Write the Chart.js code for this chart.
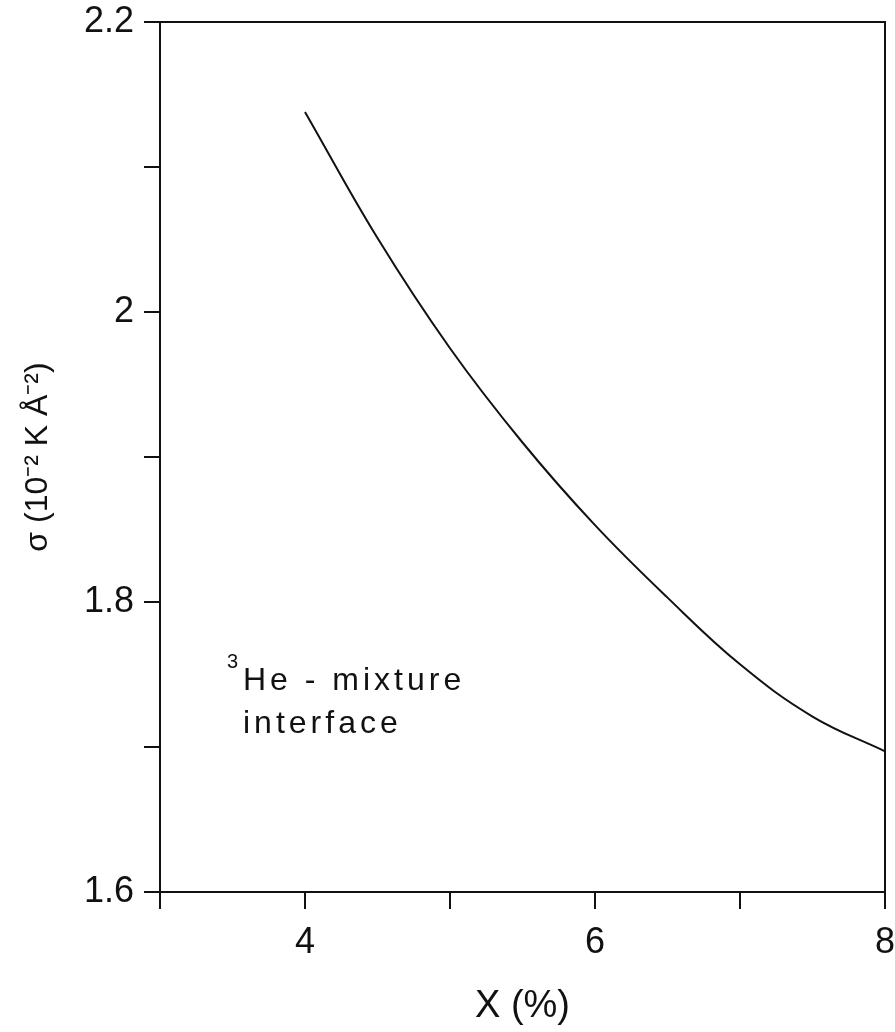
<!DOCTYPE html>
<html>
<head>
<meta charset="utf-8">
<title>sigma x X</title>
<script src="https://cdn.jsdelivr.net/npm/chart.js@4/dist/chart.umd.min.js"></script>
<style>
    body { margin: 0; background: #fff; }
    #box-chart { width: 895px; height: 1032px; }
</style>
</head>
<body>
<div id="box-chart">
    <canvas id="LineChart1" width="895" height="1032"></canvas>
</div>
<script>
// concentracao X (%) e tensao superficial sigma (10^-2 K A^-2)
var concentracao = [4, 4.5, 5, 5.5, 6, 6.5, 7, 7.5, 8];
var sigma = [2.138, 2.051, 1.975, 1.910, 1.853, 1.803, 1.757, 1.721, 1.697];

var xRotulosValores = [4, 6, 8];
var xRotulos = ['4', '6', '8'];
var yRotulosValores = [1.6, 1.8, 2.0, 2.2];
var yRotulos = ['1.6', '1.8', '2', '2.2'];

var fonte = "'Liberation Sans', Arial, sans-serif";

function rotulo(v, valores, textos) {
    for (var i = 0; i < valores.length; i++) {
        if (Math.abs(v - valores[i]) < 1e-6)
            return textos[i];
    }
    return '';
}

// moldura (topo e direita) e o texto dentro do grafico
var moldura = {
    id: 'moldura',
    afterDraw: function (chart) {
        var ctx = chart.ctx;
        var a = chart.chartArea;
        ctx.save();
        ctx.strokeStyle = '#111';
        ctx.lineWidth = 2;
        ctx.beginPath();
        ctx.moveTo(a.left, a.top);
        ctx.lineTo(a.right, a.top);
        ctx.lineTo(a.right, a.bottom);
        ctx.stroke();

        ctx.fillStyle = '#111';
        ctx.textBaseline = 'alphabetic';
        ctx.textAlign = 'left';
        ctx.font = "20px " + fonte;
        ctx.fillText('3', 227, 668);
        ctx.font = "32px " + fonte;
        ctx.letterSpacing = '4px';
        ctx.fillText('He - mixture', 243, 690);
        ctx.fillText('interface', 243, 733);
        ctx.restore();
    }
};

function showLineChart(canvasName) {
    var ctx = document.getElementById(canvasName).getContext('2d');
    var pontos = [];
    for (var i = 0; i < concentracao.length; i++)
        pontos.push({ x: concentracao[i], y: sigma[i] });

    return new Chart(ctx, {
        type: 'scatter',
        data: {
            datasets: [{
                label: '3He-mixture interface',
                data: pontos,
                showLine: true,
                borderColor: '#111',
                borderWidth: 2,
                pointRadius: 0,
                tension: 0.4,
                backgroundColor: 'transparent'
            }]
        },
        options: {
            responsive: false,
            animation: false,
            layout: { padding: { top: 22, right: 10, left: 0, bottom: 0 } },
            plugins: {
                legend: { display: false },
                tooltip: { enabled: false }
            },
            scales: {
                x: {
                    type: 'linear',
                    min: 3,
                    max: 8,
                    afterFit: function (s) {
                        s.height = 140;
                        s.paddingLeft = 0;
                        s.paddingRight = 0;
                    },
                    border: { display: true, color: '#111', width: 2 },
                    grid: { drawOnChartArea: false, drawTicks: true, tickLength: 17, color: '#111', lineWidth: 2 },
                    ticks: {
                        stepSize: 1,
                        padding: 12,
                        color: '#111',
                        maxRotation: 0,
                        autoSkip: false,
                        font: { family: fonte, size: 36 },
                        callback: function (v) { return rotulo(v, xRotulosValores, xRotulos); }
                    },
                    title: {
                        display: true,
                        text: 'X (%)',
                        color: '#111',
                        padding: { top: 0, bottom: 3 },
                        font: { family: fonte, size: 38 }
                    }
                },
                y: {
                    type: 'linear',
                    min: 1.6,
                    max: 2.2,
                    afterFit: function (s) {
                        s.width = 160;
                        s.paddingTop = 0;
                        s.paddingBottom = 0;
                    },
                    border: { display: true, color: '#111', width: 2 },
                    grid: { drawOnChartArea: false, drawTicks: true, tickLength: 16, color: '#111', lineWidth: 2 },
                    ticks: {
                        stepSize: 0.1,
                        padding: 10,
                        color: '#111',
                        autoSkip: false,
                        font: { family: fonte, size: 36 },
                        callback: function (v) { return rotulo(v, yRotulosValores, yRotulos); }
                    },
                    title: {
                        display: true,
                        text: 'σ (10⁻² K Å⁻²)',
                        color: '#111',
                        padding: { top: 19, bottom: 0 },
                        font: { family: fonte, size: 32 }
                    }
                }
            }
        },
        plugins: [moldura]
    });
}

showLineChart('LineChart1');
</script>
</body>
</html>
